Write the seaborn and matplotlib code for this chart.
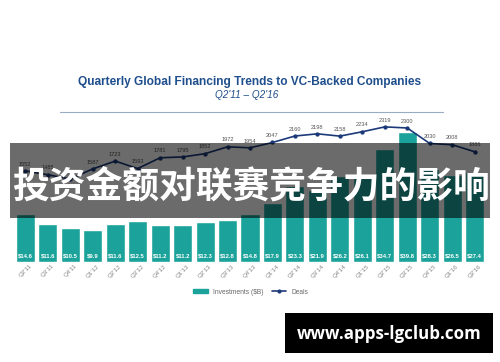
import numpy as np
import pandas as pd
import seaborn as sns
import matplotlib
matplotlib.use("Agg")
import matplotlib.pyplot as plt
from matplotlib.patches import Rectangle
from matplotlib.lines import Line2D
from matplotlib.patches import Patch

# data
quarters = ["Q2'11", "Q3'11", "Q4'11", "Q1'12", "Q2'12", "Q3'12", "Q4'12",
            "Q1'13", "Q2'13", "Q3'13", "Q4'13", "Q1'14", "Q2'14", "Q3'14",
            "Q4'14", "Q1'15", "Q2'15", "Q3'15", "Q4'15", "Q1'16", "Q2'16"]
investments = [14.6, 11.6, 10.5, 9.9, 11.6, 12.5, 11.2, 11.2, 12.3, 12.8, 14.8,
               17.9, 23.3, 21.9, 26.2, 26.1, 34.7, 39.8, 28.3, 26.5, 27.4]
deals = [1552, 1485, 1410, 1587, 1723, 1593, 1781, 1795, 1852, 1972, 1954,
         2047, 2160, 2198, 2158, 2234, 2319, 2300, 2030, 2008, 1886]

df = pd.DataFrame({"quarter": quarters, "inv": investments, "deals": deals})

sns.set_theme(style="white")
plt.rcParams['font.family'] = ['Liberation Sans', 'Noto Sans CJK SC', 'DejaVu Sans']

teal = "#1ba39b"
navy = "#1c3a7a"
blue_title = "#1f4e8c"

fig = plt.figure(figsize=(5, 3.62), dpi=100)
fig.patch.set_facecolor("white")

# main axes: bottom at 262px, height 142px
ax = fig.add_axes([13 / 500, 1 - 262 / 362, 474 / 500, 142 / 362])
sns.barplot(data=df, x="quarter", y="inv", color=teal, saturation=1,
            width=0.85, ax=ax)
ax.set_ylim(0, 142 / 3.27)
ax.set_xlim(-0.55, 20.55)
ax.set_xlabel("")
ax.set_ylabel("")
ax.set_yticks([])
for s in ax.spines.values():
    s.set_visible(False)
ax.tick_params(axis="x", length=0, pad=1)
for lab in ax.get_xticklabels():
    lab.set_rotation(45)
    lab.set_fontsize(4.5)
    lab.set_color("#888888")
    lab.set_ha("center")
    lab.set_va("top")

for i, v in enumerate(investments):
    ax.text(i, 1.2, f"${v}", ha="center", va="bottom", fontsize=4.2,
            color="white", fontweight="bold")

ax2 = ax.twinx()
sns.pointplot(data=df, x="quarter", y="deals", color=navy, markers="o",
              linestyles="-", markersize=2.2, linewidth=1.2, ax=ax2)
ax2.set_ylim(-35, -35 + 142 / 0.0574)
ax2.set_xlim(-0.55, 20.55)
ax2.set_yticks([])
ax2.set_ylabel("")
ax2.set_xlabel("")
for s in ax2.spines.values():
    s.set_visible(False)
for i, d in enumerate(deals):
    ax2.text(i, d + 75, str(d), ha="center", va="bottom", fontsize=4.1,
             color="#555555", clip_on=False)

# title block
fig.text(0.5, 1 - 82 / 362, "Quarterly Global Financing Trends to VC-Backed Companies",
         ha="center", va="center", fontsize=8.6, fontweight="bold", color=blue_title)
fig.text(247 / 500, 1 - 95 / 362, "Q2'11 \u2013 Q2'16", ha="center", va="center",
         fontsize=7.2, style="italic", color=blue_title)
fig.add_artist(Line2D([60 / 500, 443 / 500], [1 - 112 / 362, 1 - 112 / 362],
                      color="#9aaac4", lw=0.8))

# legend
handles = [Patch(color=teal, label="Investments ($B)"),
           Line2D([0], [0], color=navy, marker="o", markersize=2, lw=1.2, label="Deals")]
fig.legend(handles=handles, loc="center", bbox_to_anchor=(251 / 500, 1 - 292 / 362),
           ncol=2, frameon=False, fontsize=4.8, handlelength=2.2, handleheight=0.5,
           columnspacing=1.2, labelcolor="#666666")

# overlay banner
fig.add_artist(Rectangle((10 / 500, 1 - 218 / 362), 480 / 500, 75 / 362,
                         transform=fig.transFigure, color="black", alpha=0.58, lw=0))
fig.text(251 / 500, 1 - 187 / 362, "投资金额对联赛竞争力的影响", ha="center", va="center",
         fontsize=26.5, fontweight="bold", color="white",
         family=['Noto Sans CJK SC', 'DejaVu Sans'])

# watermark box
fig.add_artist(Rectangle((285 / 500, 1 - 353 / 362), 208 / 500, 40 / 362,
                         transform=fig.transFigure, color="black", lw=0))
fig.text(389 / 500, 1 - 334 / 362, "www.apps-lgclub.com", ha="center", va="center",
         fontsize=12.2, fontweight="bold", color="white",
         family=['Open Sans', 'DejaVu Sans'])

fig.savefig("out.png", dpi=100)
